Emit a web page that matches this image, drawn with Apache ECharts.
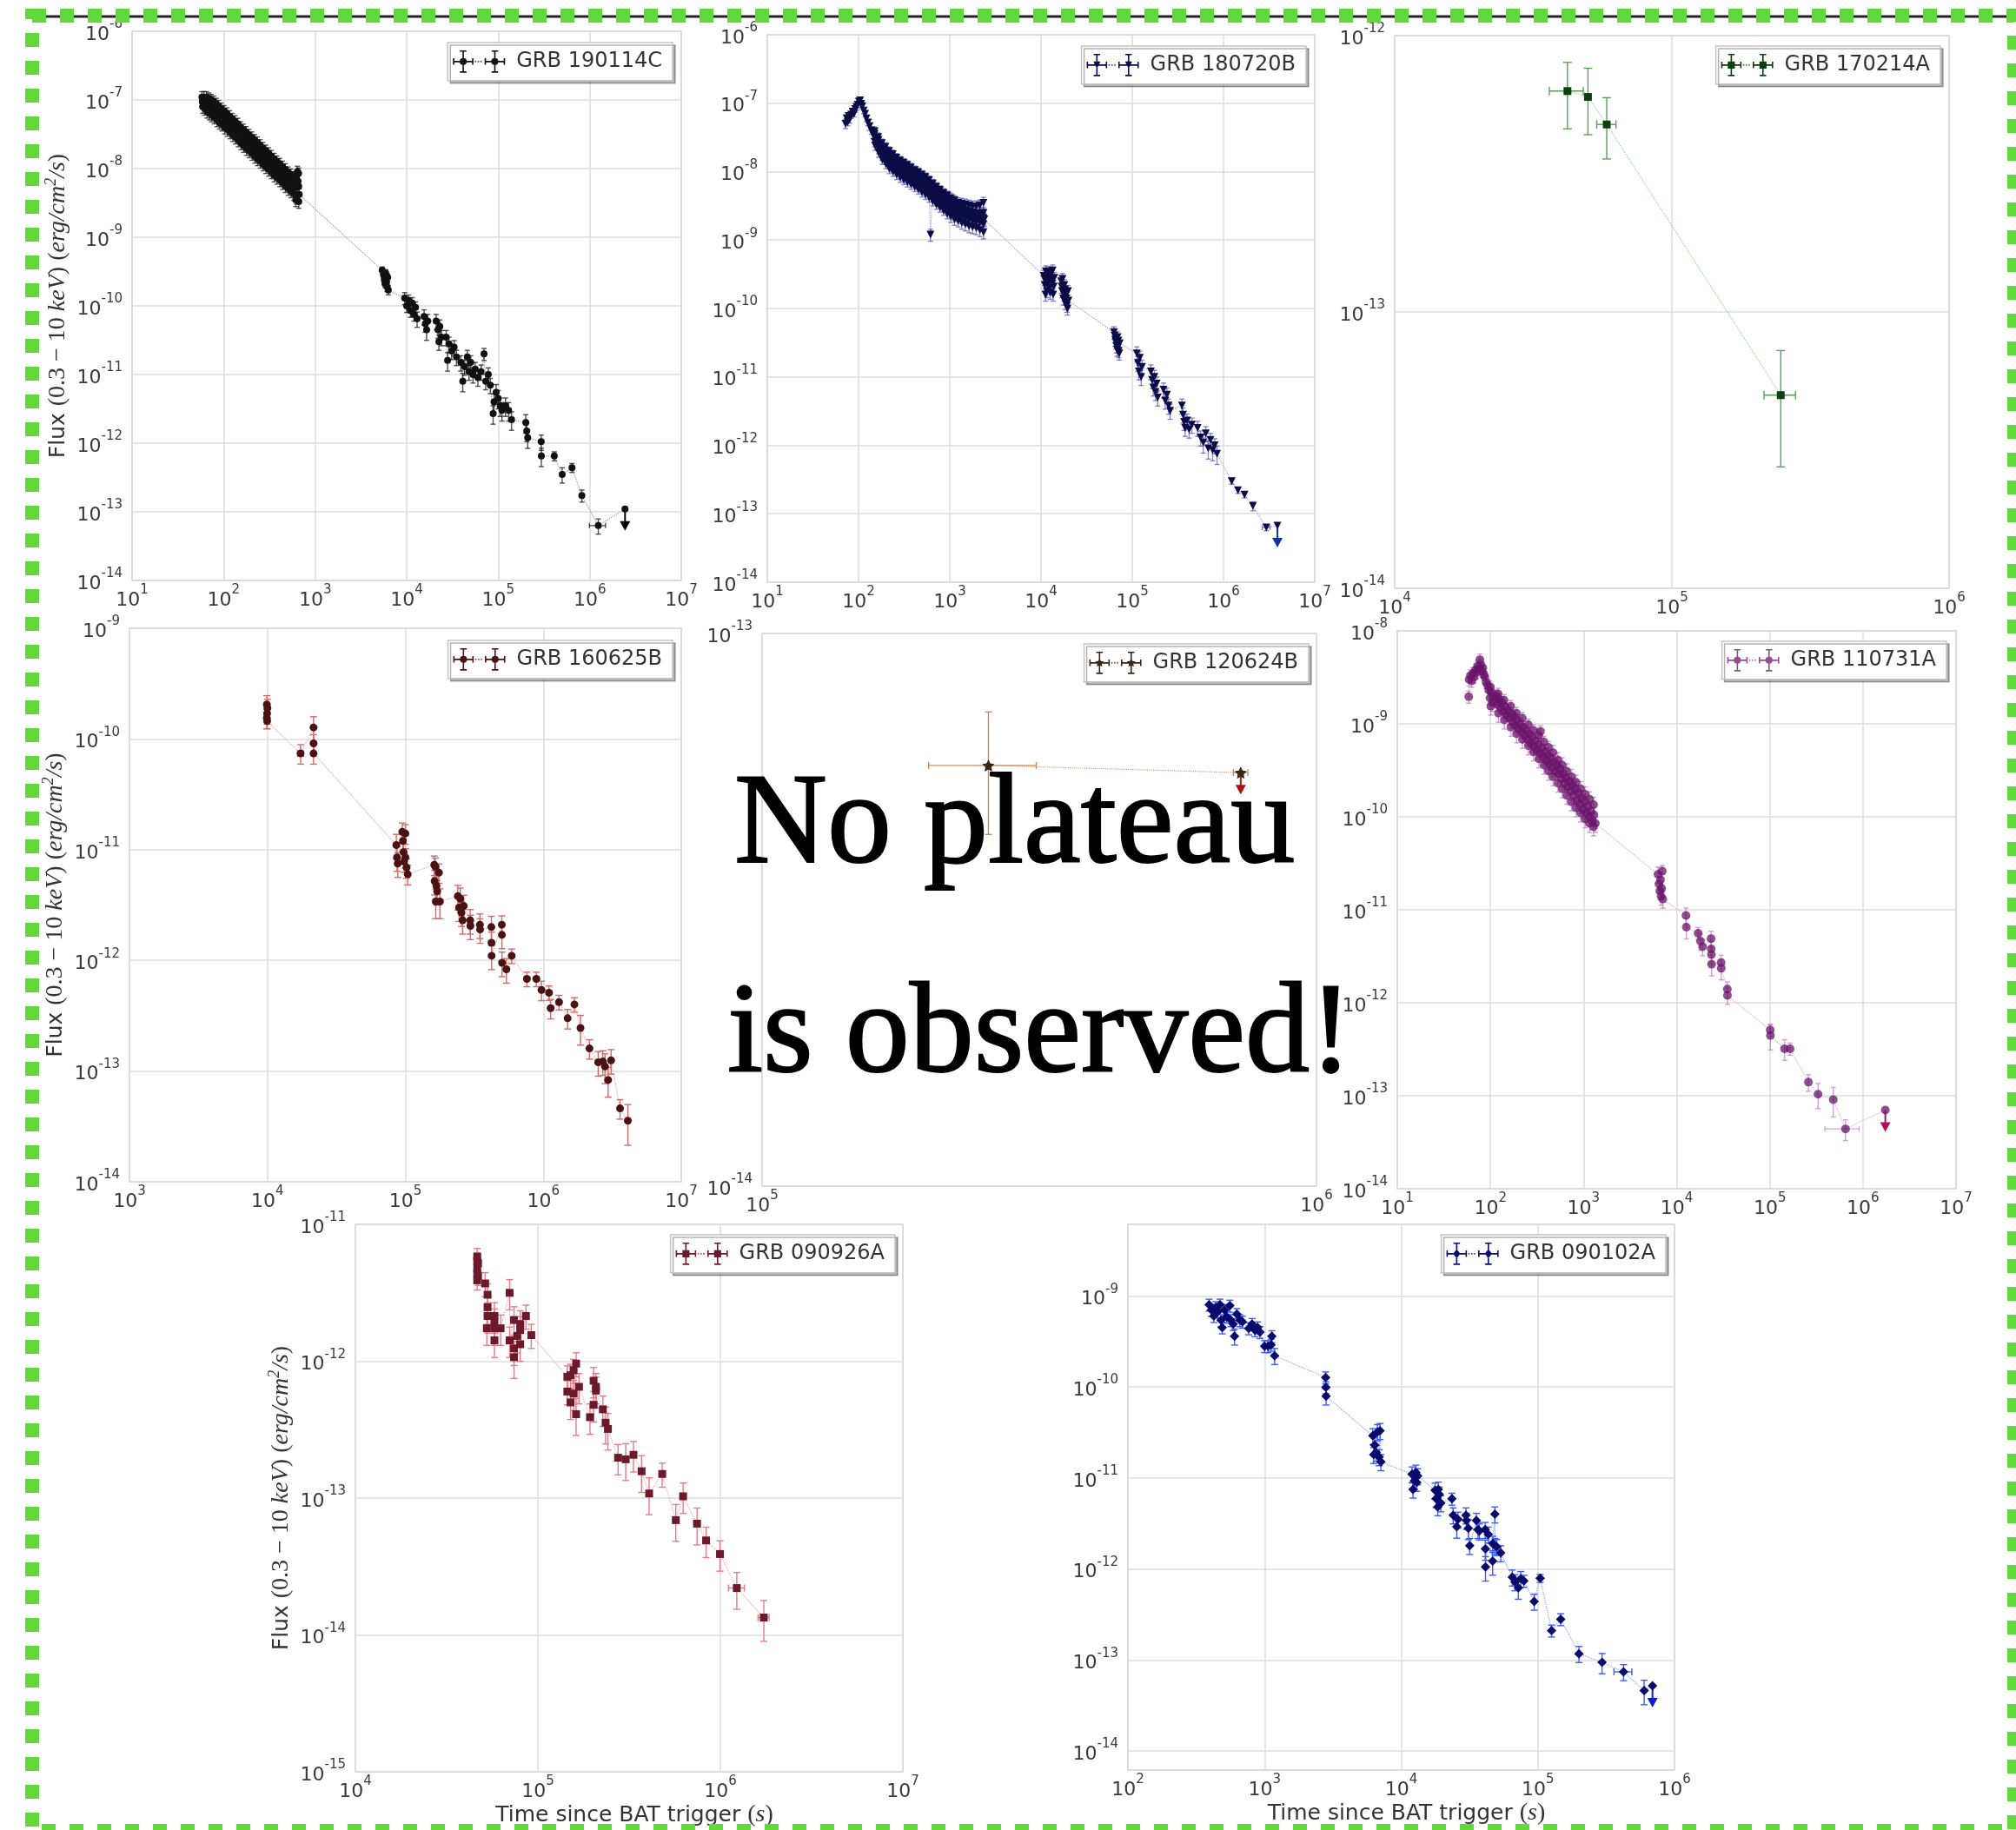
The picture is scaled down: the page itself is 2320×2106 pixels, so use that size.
<!DOCTYPE html>
<html><head><meta charset="utf-8">
<script src="https://cdn.jsdelivr.net/npm/echarts@6/dist/echarts.min.js"></script>
<style>html,body{margin:0;padding:0;background:#fff}#c{width:2320px;height:2106px}</style>
</head><body><div id="c"></div>
<script>
// ---- DATA: [time (s), flux, relative flux error, relative time error, upper-limit flag] ----
const grb190114C = [
[58,1.1e-7,.2],[58.5,9.5e-8,.2],[59,8.0e-8,.2],[61,1.1e-7,.2],[61.5,9.2e-8,.2],[62,7.5e-8,.2],[65,1.1e-7,.2],[65.5,8.8e-8,.2],[66,6.8e-8,.2],[69,1.05e-7,.2],[69.5,8.4e-8,.2],[70,6.4e-8,.2],[73,1.0e-7,.2],[73.5,7.8e-8,.2],[74,6.0e-8,.2],[78,9.5e-8,.2],[78.5,7.2e-8,.2],[79,5.6e-8,.2],[83,8.8e-8,.2],[84,6.8e-8,.2],[85,5.1e-8,.2],[88,8.2e-8,.2],[89,6.3e-8,.2],[90,4.7e-8,.2],[94,7.5e-8,.2],[95,5.8e-8,.2],[96,4.4e-8,.2],[101,6.9e-8,.2],[102,5.3e-8,.2],[103,4.0e-8,.2],[108,6.4e-8,.2],[109,4.9e-8,.2],[110,3.7e-8,.2],[116,5.8e-8,.2],[117,4.5e-8,.2],[118,3.4e-8,.2],[124,5.3e-8,.2],[125,4.1e-8,.2],[126,3.1e-8,.2],[133,4.9e-8,.2],[134,3.8e-8,.2],[135,2.85e-8,.2],[143,4.5e-8,.2],[144,3.5e-8,.2],[145,2.6e-8,.2],[153,4.0e-8,.2],[154,3.1e-8,.2],[155,2.35e-8,.2],[164,3.7e-8,.2],[165,2.85e-8,.2],[166,2.15e-8,.2],[176,3.4e-8,.2],[177,2.6e-8,.2],[178,1.95e-8,.2],[189,3.1e-8,.2],[190,2.4e-8,.2],[191,1.8e-8,.2],[203,2.85e-8,.2],[204,2.2e-8,.2],[205,1.65e-8,.2],[218,2.6e-8,.2],[219,2.0e-8,.2],[220,1.5e-8,.2],[233,2.4e-8,.2],[234,1.84e-8,.2],[235,1.38e-8,.2],[250,2.2e-8,.2],[251,1.69e-8,.2],[252,1.27e-8,.2],[268,2.0e-8,.2],[269,1.54e-8,.2],[270,1.16e-8,.2],[288,1.83e-8,.2],[289,1.41e-8,.2],[290,1.06e-8,.2],[309,1.68e-8,.2],[310,1.29e-8,.2],[311,9.7e-9,.2],[331,1.53e-8,.2],[332,1.18e-8,.2],[333,8.9e-9,.2],[356,1.39e-8,.2],[357,1.07e-8,.2],[358,8.0e-9,.2],[382,1.27e-8,.2],[383,9.8e-9,.2],[384,7.4e-9,.2],[410,1.17e-8,.2],[411,9.0e-9,.2],[412,6.8e-9,.2],[440,1.07e-8,.2],[441,8.2e-9,.2],[442,6.2e-9,.2],[472,9.8e-9,.2],[473,7.5e-9,.2],[474,5.6e-9,.2],[507,8.8e-9,.2],[508,6.8e-9,.2],[509,5.1e-9,.2],[543,8.2e-9,.2],[544,6.3e-9,.2],[545,4.7e-9,.2],[583,7.5e-9,.2],[584,5.8e-9,.2],[585,4.3e-9,.2],[615,3.5e-9,.2],[625,7.5e-9,.2],[626,5.3e-9,.2],[627,3.8e-9,.2],[640,9.0e-9,.2],[650,6.5e-9,.2],[660,8.5e-9,.2],[661,5.5e-9,.2],[662,3.3e-9,.2],[670,4.2e-9,.2],
[5400,3.3e-10,.12],[5600,2.8e-10,.12],[5700,2.4e-10,.12],[5800,2.1e-10,.12],[5900,3.0e-10,.12],[6000,2.2e-10,.12],[6100,1.9e-10,.15],[6200,2.6e-10,.12],[6300,1.7e-10,.15],
[9500,1.3e-10,.2],[10000,1.0e-10,.2],[10500,1.2e-10,.2],[11000,8.5e-11,.2],[11500,1.1e-10,.2],[12000,7.5e-11,.2],[12500,9.5e-11,.2],[13000,6.5e-11,.25],
[15500,7.0e-11,.25],[16000,5.5e-11,.25],[16500,4.5e-11,.3],[17000,6.0e-11,.25],
[21000,6.0e-11,.25],[22000,4.5e-11,.25],[22500,3.0e-11,.25],[23000,5.0e-11,.25],[24000,3.5e-11,.25],
[27000,3.5e-11,.25],[28000,1.6e-11,.3],[29000,2.8e-11,.25],[31000,2.2e-11,.25],[33000,2.5e-11,.25],[35000,1.8e-11,.25],
[39000,1.5e-11,.25],[41000,8.0e-12,.3],[43000,1.3e-11,.25],[46000,1.8e-11,.25],[48000,1.1e-11,.25],[50000,1.5e-11,.25],[53000,1.0e-11,.25],[56000,1.2e-11,.25],
[60000,9.0e-12,.25],[65000,1.1e-11,.25],[70000,2.0e-11,.2],[73000,8.0e-12,.25],[78000,1.0e-11,.25],[82000,7.0e-12,.25],
[88000,2.7e-12,.3],[90000,4.0e-12,.3],[95000,5.5e-12,.3],[100000,4.5e-12,.3],[105000,3.5e-12,.3],[110000,3.0e-12,.3],[120000,3.5e-12,.3],[130000,3.0e-12,.3],[140000,2.2e-12,.3],
[200000,2.0e-12,.3],[205000,1.5e-12,.3],[210000,1.2e-12,.3],
[295000,1.05e-12,.25],[296000,6.5e-13,.3],[410000,6.5e-13,.15],[500000,3.5e-13,.25],[640000,4.4e-13,.15],[820000,1.73e-13,.2],[1240000,6.3e-14,.25,.2],[2430000,1.1e-13,0,0,1]
];
const grb180720B = [
[72,5.0e-8,.15],[74,6.0e-8,.12],[76,5.3e-8,.12],[78,6.5e-8,.12],[80,5.8e-8,.12],[83,6.8e-8,.12],[86,7.5e-8,.1],[89,7.0e-8,.1],[92,8.2e-8,.1],[95,8.8e-8,.1],[98,9.5e-8,.1],[101,1.05e-7,.1],[104,1.1e-7,.1],[107,9.8e-8,.1],[110,9.0e-8,.1],[114,7.8e-8,.1],[118,7.0e-8,.1],[122,6.0e-8,.1],[127,5.2e-8,.1],[132,4.6e-8,.12],[138,4.0e-8,.12],[144,3.5e-8,.12],
[150,3.9e-8,.15],[151,3.1e-8,.15],[152,2.4e-8,.15],[164,3.2e-8,.15],[165,2.5e-8,.15],[166,1.9e-8,.15],[180,2.6e-8,.15],[181,2.0e-8,.15],[182,1.5e-8,.15],[197,2.3e-8,.15],[198,1.75e-8,.15],[199,1.3e-8,.15],[216,2.0e-8,.15],[217,1.5e-8,.15],[218,1.1e-8,.15],[237,1.8e-8,.15],[238,1.35e-8,.15],[239,1.0e-8,.15],[260,1.6e-8,.15],[261,1.2e-8,.15],[262,9.0e-9,.15],[285,1.45e-8,.15],[286,1.08e-8,.15],[287,8.2e-9,.15],[312,1.35e-8,.15],[313,1.0e-8,.15],[314,7.6e-9,.15],[342,1.25e-8,.15],[343,9.3e-9,.15],[344,7.0e-9,.15],[375,1.15e-8,.15],[376,8.7e-9,.15],[377,6.5e-9,.15],[412,1.05e-8,.15],[413,8.0e-9,.15],[414,6.0e-9,.15],[451,9.8e-9,.15],[452,7.4e-9,.15],[453,5.5e-9,.15],[494,9.0e-9,.15],[495,6.8e-9,.15],[496,5.0e-9,.15],[541,8.3e-9,.15],[542,6.2e-9,.15],[543,4.6e-9,.15],[593,7.5e-9,.15],[594,5.6e-9,.15],[595,4.2e-9,.15],[615,1.2e-9,.2],[650,6.7e-9,.15],[651,5.0e-9,.15],[652,3.7e-9,.15],[712,6.0e-9,.15],[713,4.5e-9,.15],[714,3.3e-9,.15],[780,5.4e-9,.15],[781,4.0e-9,.15],[782,3.0e-9,.15],[855,4.9e-9,.15],[856,3.6e-9,.15],[857,2.7e-9,.15],[937,4.5e-9,.15],[938,3.3e-9,.15],[939,2.4e-9,.15],[1027,4.1e-9,.18],[1028,3.0e-9,.18],[1029,2.2e-9,.18],[1125,3.8e-9,.18],[1126,2.8e-9,.18],[1127,2.0e-9,.18],[1233,3.5e-9,.18],[1234,2.6e-9,.18],[1235,1.9e-9,.18],[1351,3.4e-9,.2],[1352,2.5e-9,.2],[1353,1.8e-9,.2],[1480,3.3e-9,.2],[1481,2.4e-9,.2],[1482,1.7e-9,.2],[1622,3.2e-9,.2],[1623,2.3e-9,.2],[1624,1.6e-9,.2],[1778,3.1e-9,.2],[1779,2.2e-9,.2],[1780,1.55e-9,.2],[1948,3.1e-9,.2],[1949,2.15e-9,.2],[1950,1.5e-9,.2],[2135,3.2e-9,.2],[2136,2.1e-9,.2],[2137,1.4e-9,.2],[2340,3.5e-9,.2],[2341,2.1e-9,.2],[2342,1.3e-9,.2],
[2341.5,1.7e-9,.2],[2341.5,2.5e-9,.2],[2136.5,1.8e-9,.2],[2136.5,2.45e-9,.2],[1949.5,1.85e-9,.2],[1949.5,2.5e-9,.2],[1779.5,1.9e-9,.2],[1779.5,2.55e-9,.2],[1623.5,1.98e-9,.2],[1623.5,2.65e-9,.2],[1481.5,2.05e-9,.2],[1481.5,2.75e-9,.2],[1352.5,2.15e-9,.2],[1352.5,2.9e-9,.2],[1234.5,2.25e-9,.18],[1234.5,3.0e-9,.18],[1126.5,2.4e-9,.18],[1126.5,3.2e-9,.18],[1027.5,2.6e-9,.18],[1027.5,3.45e-9,.18],[937.5,2.85e-9,.15],[937.5,3.8e-9,.15],[855.5,3.1e-9,.15],[855.5,4.15e-9,.15],[780.5,3.45e-9,.15],[780.5,4.6e-9,.15],[712.5,3.9e-9,.15],[712.5,5.2e-9,.15],[650.5,4.3e-9,.15],[650.5,5.75e-9,.15],[593.5,4.8e-9,.15],[593.5,6.4e-9,.15],[541.5,5.3e-9,.15],[541.5,7.1e-9,.15],[494.5,5.8e-9,.15],[494.5,7.8e-9,.15],[451.5,6.4e-9,.15],[451.5,8.5e-9,.15],[412.5,6.9e-9,.15],[412.5,9.2e-9,.15],[375.5,7.5e-9,.15],[375.5,1.0e-8,.15],[342.5,8.0e-9,.15],[342.5,1.07e-8,.15],[312.5,8.6e-9,.15],[312.5,1.15e-8,.15],[285.5,9.3e-9,.15],[285.5,1.24e-8,.15],[260.5,1.03e-8,.15],[260.5,1.38e-8,.15],[237.5,1.16e-8,.15],[237.5,1.55e-8,.15],[216.5,1.29e-8,.15],[216.5,1.73e-8,.15],[197.5,1.5e-8,.15],[197.5,2.0e-8,.15],[180.5,1.72e-8,.15],[180.5,2.3e-8,.15],[165.5,2.15e-8,.15],[165.5,2.9e-8,.15],[150.5,2.7e-8,.15],[150.5,3.55e-8,.15],[1200,2.7e-9,.18],[1500,2.3e-9,.2],[1900,2.0e-9,.2],[2250,2.2e-9,.2],[2390,2.0e-9,.2],
[10700,3.0e-10,.2],[10900,2.7e-10,.2],[11000,2.2e-10,.2],[11200,1.6e-10,.2],[11300,3.5e-10,.2],[11500,3.0e-10,.2],[11600,1.8e-10,.2],[11800,2.3e-10,.2],[12000,2.6e-10,.2],[12200,3.4e-10,.2],[12400,2.0e-10,.2],[12600,1.7e-10,.2],[12800,3.2e-10,.2],[13000,2.7e-10,.2],[13200,2.3e-10,.2],[13400,3.6e-10,.2],[13600,1.6e-10,.2],[13800,2.1e-10,.2],[14000,2.8e-10,.2],
[16600,2.5e-10,.2],[16800,2.1e-10,.2],[17000,1.8e-10,.2],[17200,2.7e-10,.2],[17500,1.4e-10,.2],[17800,1.6e-10,.2],[18000,2.2e-10,.2],[18200,1.9e-10,.2],[18500,1.2e-10,.2],[18800,1.4e-10,.2],[19000,1.6e-10,.2],[19200,1.1e-10,.2],[19500,1.0e-10,.2],[19800,1.8e-10,.2],[20000,1.3e-10,.2],
[63000,4.5e-11,.2],[64000,4.0e-11,.2],[65000,3.5e-11,.2],[66000,3.2e-11,.2],[67000,2.8e-11,.2],[68000,2.5e-11,.2],[69000,3.8e-11,.2],[70000,3.4e-11,.2],[71000,2.4e-11,.2],[72000,2.2e-11,.2],[73000,3.1e-11,.2],
[112000,2.2e-11,.25],[115000,1.6e-11,.25],[118000,1.2e-11,.25],[121000,1.9e-11,.25],[125000,1.0e-11,.25],[128000,1.4e-11,.25],
[160000,1.2e-11,.25],[165000,9.0e-12,.25],[170000,7.0e-12,.25],[175000,1.0e-11,.25],[180000,6.0e-12,.25],[185000,8.0e-12,.25],[190000,5.0e-12,.25],
[220000,6.5e-12,.25],[230000,4.5e-12,.25],[240000,5.5e-12,.25],[250000,3.8e-12,.25],[260000,3.2e-12,.25],
[350000,3.8e-12,.25],[360000,2.8e-12,.25],[370000,2.2e-12,.25],[380000,1.8e-12,.25],
[400000,2.3e-12,.25],[420000,1.7e-12,.25],[450000,2.0e-12,.25],
[520000,1.8e-12,.25],[560000,1.3e-12,.25],[600000,1.1e-12,.3],[640000,1.5e-12,.25],[680000,9.0e-13,.3],[720000,1.2e-12,.25],[760000,8.5e-13,.3],[800000,1.0e-12,.25],[850000,7.5e-13,.3],
[1230000,3.0e-13,.1],[1440000,2.2e-13,.1],[1700000,1.9e-13,.1],[2100000,1.3e-13,.15],[2950000,6.3e-14,.1,.1],[3900000,6.7e-14,0,0,1]
];
const grb170214A = [
[42000,6.3e-13,.27,.14],[49800,6.0e-13,.27,0],[58200,4.77e-13,.25,.08],[247000,5.0e-14,.45,.13]
];
const grb160625B = [
[9900,2.05e-10,.2],[9950,1.7e-10,.2],[9900,1.55e-10,.2],[10000,1.9e-10,.2],[9950,1.45e-10,.15],
[17400,7.4e-11,.2,.05],[21600,1.27e-10,.25],[21600,9.1e-11,.2],[21600,7.4e-11,.2],
[86000,1.1e-11,.25],[87000,8.5e-12,.25],[88000,7.5e-12,.25],[95000,1.45e-11,.2],[96000,1.2e-11,.2],[97000,9.5e-12,.2],[98000,7.8e-12,.2],[100000,1.4e-11,.2],[100000,8.5e-12,.2],[102000,6.9e-12,.2],[104000,6.0e-12,.2],
[162000,7.3e-12,.2],[165000,7.0e-12,.2],[163000,5.2e-12,.25],[168000,4.7e-12,.25],[170000,4.2e-12,.25],[166000,3.4e-12,.3],[175000,6.2e-12,.2],[178000,3.4e-12,.3],
[240000,3.8e-12,.25],[245000,3.0e-12,.25],[250000,3.6e-12,.25],[255000,2.7e-12,.25],[260000,2.3e-12,.25],[265000,3.1e-12,.25],
[295000,2.3e-12,.25],[296000,2.05e-12,.25],[347000,2.1e-12,.25],[348000,1.9e-12,.25],
[420000,2.0e-12,.25],[421000,1.44e-12,.25],[422000,1.1e-12,.25],[500000,2.1e-12,.2],[501000,1.7e-12,.25],[502000,9.5e-13,.25],[540000,8.3e-13,.25],[590000,1.1e-12,.15],
[760000,6.8e-13,.15],[890000,6.8e-13,.15],[970000,5.4e-13,.2],[1100000,5.1e-13,.15],[1130000,3.7e-13,.2],[1300000,4.2e-13,.15],[1500000,3.0e-13,.2],[1680000,4.0e-13,.15],[1860000,2.45e-13,.3],[2160000,1.6e-13,.2],[2500000,1.2e-13,.25],[2700000,1.22e-13,.25],[2800000,1.1e-13,.3],[2950000,8.3e-14,.3],[3100000,1.25e-13,.25],[3600000,4.6e-14,.2],[4100000,3.56e-14,.4]
];
const grb120624B = [
[256000,5.77e-14,.25,.22],[730000,5.6e-14,0,.03,1]
];
const grb110731A = [
[58.5,1.96e-9,.15],[59,3.0e-9,.15],[61,3.3e-9,.15],[63,2.9e-9,.15],[65,3.5e-9,.15],[67,3.2e-9,.15],[69,3.8e-9,.15],[71,3.6e-9,.15],[73,4.2e-9,.15],[75,3.9e-9,.15],[77,4.9e-9,.15],[79,4.3e-9,.15],[81,3.7e-9,.15],[83,4.0e-9,.15],[85,3.4e-9,.15],[87,3.2e-9,.15],[90,2.8e-9,.15],[93,2.6e-9,.15],[96,2.3e-9,.15],[99,1.9e-9,.15],[100,2.5e-9,.15],[101,1.55e-9,.2],[102,2.2e-9,.15],[105,1.7e-9,.2],[108,2.0e-9,.15],[112,1.75e-9,.15],[116,2.0e-9,.15],[120,1.6e-9,.15],[121,2.1e-9,.15],[122,1.3e-9,.2],[124,1.85e-9,.15],[128,1.5e-9,.15],[133,1.7e-9,.15],[138,1.35e-9,.15],[140,1.8e-9,.15],[141,1.1e-9,.2],[143,1.55e-9,.15],[148,1.25e-9,.15],[154,1.4e-9,.15],[160,1.15e-9,.15],[165,1.55e-9,.15],[166,9.2e-10,.2],[167,1.3e-9,.15],[172,1.05e-9,.15],[179,1.2e-9,.15],[186,9.6e-10,.15],[190,1.3e-9,.15],[191,7.8e-10,.2],[193,1.1e-9,.15],[200,8.8e-10,.15],[208,1.0e-9,.15],[216,8.2e-10,.15],[220,1.15e-9,.15],[221,6.8e-10,.2],[224,9.2e-10,.15],[233,7.5e-10,.15],[242,8.5e-10,.15],[251,6.8e-10,.15],[255,9.8e-10,.15],[256,5.8e-10,.2],[261,7.8e-10,.15],[271,6.2e-10,.2],[282,7.2e-10,.15],[290,8.5e-10,.15],[291,5.0e-10,.2],[293,5.7e-10,.2],[304,6.6e-10,.15],[316,5.2e-10,.2],[328,6.0e-10,.15],[330,7.5e-10,.15],[331,4.2e-10,.2],[341,4.8e-10,.2],[345,8.3e-10,.15],[354,5.5e-10,.2],[368,4.4e-10,.2],[375,6.4e-10,.15],[376,3.6e-10,.2],[382,5.0e-10,.2],[397,4.0e-10,.2],[412,4.6e-10,.2],[420,5.6e-10,.15],[421,3.1e-10,.2],[428,3.7e-10,.2],[445,4.3e-10,.2],[462,3.4e-10,.2],[470,4.9e-10,.2],[471,2.7e-10,.2],[480,3.9e-10,.2],[499,3.1e-10,.2],[518,3.6e-10,.2],[530,4.1e-10,.2],[531,2.3e-10,.2],[538,2.9e-10,.2],[559,3.3e-10,.2],[581,2.6e-10,.2],[590,3.6e-10,.2],[591,2.0e-10,.2],[603,2.9e-10,.2],[627,2.3e-10,.2],[651,2.6e-10,.2],[660,3.1e-10,.2],[661,1.7e-10,.2],[676,2.1e-10,.2],[702,2.4e-10,.2],[730,1.9e-10,.2],[740,2.7e-10,.2],[741,1.45e-10,.2],[758,2.2e-10,.2],[787,1.7e-10,.2],[818,2.0e-10,.2],[830,2.35e-10,.2],[831,1.25e-10,.2],[850,1.5e-10,.2],[883,1.8e-10,.2],[917,1.35e-10,.2],[930,2.0e-10,.2],[931,1.1e-10,.2],[953,1.6e-10,.2],[990,1.2e-10,.2],[1028,1.45e-10,.2],[1040,1.75e-10,.2],[1041,9.5e-11,.2],[1068,1.1e-10,.2],[1110,1.3e-10,.2],[1153,1.0e-10,.2],[1160,1.55e-10,.2],[1161,8.5e-11,.2],[1198,1.15e-10,.2],[1245,9.0e-11,.2],[1280,1.35e-10,.2],[1281,7.8e-11,.2],[1293,1.05e-10,.2],[1340,8.5e-11,.2],
[6300,2.4e-11,.2],[6450,1.9e-11,.2],[6600,1.6e-11,.2],[6700,2.1e-11,.2],[6800,1.4e-11,.2],[6900,1.7e-11,.2],[7000,2.6e-11,.15],[7100,1.3e-11,.2],
[12600,8.7e-12,.2],[12700,6.5e-12,.25],
[17000,5.6e-12,.15],[18000,4.6e-12,.2],[19000,4.0e-12,.2],
[23400,4.9e-12,.2],[23500,3.8e-12,.2],[23600,3.3e-12,.2],[23700,2.6e-12,.25],
[30000,2.7e-12,.2],[30100,2.35e-12,.25],
[35000,1.4e-12,.2],[35100,1.2e-12,.2],
[101000,5.1e-13,.15],[101500,4.45e-13,.3],[144000,3.2e-13,.25],[165000,3.2e-13,.15],
[260000,1.4e-13,.2],[330000,1.04e-13,.3],[480000,9.1e-14,.35],[650000,4.4e-14,.25,.4],[1740000,7.0e-14,0,0,1]
];
const grb090926A = [
[46500,5.8e-12,.15],[46500,5.4e-12,.15],[46500,4.8e-12,.15],[46500,4.35e-12,.15],[46500,3.9e-12,.15],[47000,5.2e-12,.15],[47000,4.2e-12,.15],
[51400,3.7e-12,.2],[53000,3.06e-12,.2],[53000,2.48e-12,.25],[53000,2.14e-12,.25],[52500,1.74e-12,.25],
[57800,2.14e-12,.25],[57800,1.93e-12,.25],[57800,1.74e-12,.25],[57800,1.42e-12,.25],[62500,1.74e-12,.25],
[70000,3.16e-12,.25],[70000,1.42e-12,.25],[74000,2.0e-12,.25],[74000,1.24e-12,.25],[74000,1.07e-12,.3],[77000,1.53e-12,.25],[80000,1.87e-12,.25],[80000,1.69e-12,.25],[80000,1.33e-12,.25],[86000,2.14e-12,.2],[92000,1.55e-12,.2],
[145000,7.7e-13,.2],[145000,6.0e-13,.2],[151000,7.9e-13,.2],[151000,5.0e-13,.25],[157000,8.6e-13,.2],[157000,5.8e-13,.25],[162000,9.6e-13,.2],[162000,4.1e-13,.3],[168000,6.5e-13,.25],
[193000,3.9e-13,.25],[202000,4.8e-13,.25],[202000,7.2e-13,.25],[208000,6.5e-13,.25],[208000,6.1e-13,.25],[227000,4.45e-13,.25],[235000,3.55e-13,.3],[242000,3.2e-13,.3],
[275000,1.97e-13,.25],[303000,1.92e-13,.3],[334000,2.07e-13,.25],[370000,1.57e-13,.3],[407000,1.08e-13,.3],[480000,1.5e-13,.2],[570000,6.9e-14,.3],[625000,1.03e-13,.25],[745000,6.5e-14,.3],[835000,4.9e-14,.25],[995000,3.9e-14,.25],[1230000,2.2e-14,.3,.1],[1730000,1.34e-14,.33,.07]
];
const grb090102A = [
[393,8.0e-10,.15],[408,7.0e-10,.15],[425,6.0e-10,.15],[440,7.5e-10,.15],[455,6.7e-10,.15],[472,8.0e-10,.15],[480,5.4e-10,.15],[490,4.5e-10,.15],[510,7.0e-10,.15],[528,5.9e-10,.15],[557,7.8e-10,.15],[567,5.4e-10,.15],[590,4.9e-10,.15],[603,3.6e-10,.2],[627,6.3e-10,.15],[660,5.4e-10,.15],[688,5.2e-10,.15],
[766,4.4e-10,.15],[810,4.9e-10,.15],[850,4.2e-10,.15],[890,4.5e-10,.15],[925,4.0e-10,.15],
[1000,2.8e-10,.15],[1060,2.8e-10,.15],[1115,2.9e-10,.15],[1130,3.6e-10,.15],[1185,2.2e-10,.2],
[2800,1.27e-10,.15],[2810,9.9e-11,.15],[2820,7.9e-11,.2],
[6200,2.9e-11,.2],[6300,1.8e-11,.2],[6400,2.3e-11,.2],[6550,1.9e-11,.2],[6700,3.2e-11,.2],[6900,1.7e-11,.2],[7000,3.3e-11,.2],[7100,1.5e-11,.2],
[12000,1.1e-11,.2],[12200,7.5e-12,.2],[12500,9.3e-12,.2],[12800,1.15e-11,.2],[13000,8.9e-12,.2],[13200,1.05e-11,.2],
[17700,7.3e-12,.2],[18000,5.9e-12,.2],[18500,4.8e-12,.2],[18700,7.5e-12,.2],[19000,6.6e-12,.2],[19500,5.3e-12,.2],
[23500,5.9e-12,.15],[24000,3.9e-12,.2],[25500,2.9e-12,.25],[26000,3.5e-12,.2],
[29800,3.9e-12,.2],[30000,3.4e-12,.2],[31000,2.8e-12,.25],[31700,1.8e-12,.2],
[35500,3.4e-12,.2],[36500,2.7e-12,.2],[37300,2.6e-12,.2],
[41200,2.7e-12,.2],[41300,1.66e-12,.25],[41400,1.05e-12,.3],[43400,2.4e-12,.2],[46700,1.22e-12,.3],[46800,1.9e-12,.2],[48500,4.0e-12,.2],[48600,1.8e-12,.2],[50000,1.75e-12,.2],[53500,1.5e-12,.2],
[65000,8.1e-13,.2],[68000,7.2e-13,.2],[72000,6.2e-13,.25],[75000,7.8e-13,.2],[79000,7.4e-13,.15],
[94000,4.4e-13,.2],[104000,7.9e-13,.1],[126000,2.1e-13,.15],[147000,2.8e-13,.15],[200000,1.17e-13,.2],[295000,9.4e-14,.25],[424000,7.4e-14,.2,.15],[600000,4.6e-14,.3],[690000,5.2e-14,0,0,1]
];

// axis ranges (log10 exponents)
const xRanges = [[1,7],[1,7],[4,6],[3,7],[5,6],[1,7],[4,7],[2,6]];
const yRanges = [[-14,-6],[-14,-6],[-14,-12],[-14,-9],[-14,-13],[-14,-8],[-15,-11],[-14.21,-8.214]];
const grbNames = ['GRB 190114C','GRB 180720B','GRB 170214A','GRB 160625B','GRB 120624B','GRB 110731A','GRB 090926A','GRB 090102A'];
const grbData = [grb190114C, grb180720B, grb170214A, grb160625B, grb120624B, grb110731A, grb090926A, grb090102A];

// ---- LAYOUT / STYLE ----
const layout = [
  {grid:[152,36,632,632],  legend:[1546,49],  yName:true,  xName:false},
  {grid:[883,40,630,630],  legend:[817,53],   yName:false, xName:false},
  {grid:[1605,41,638,636], legend:[87,53],    yName:false, xName:false},
  {grid:[149,723,635,637], legend:[1546,737], yName:true,  xName:false},
  {grid:[877,729,638,636], legend:[814,741],  yName:false, xName:false},
  {grid:[1608,726,643,642],legend:[80,738],   yName:false, xName:false},
  {grid:[409,1409,630,630],legend:[1290,1421],yName:true,  xName:true},
  {grid:[1298,1409,629,628],legend:[403,1421],yName:false, xName:true}
];
const styles = [
  {shape:'circle',  size:8,  marker:'#111111', err:'rgba(25,25,25,0.75)',  line:'#9a9a9a', ul:'#000000', cap:3},
  {shape:'tridown', size:9,  marker:'#0b0b45', err:'rgba(60,60,170,0.6)',  line:'#9fa3d8', ul:'#1030b0', cap:3},
  {shape:'square',  size:9,  marker:'#0d3f0d', err:'#5aa05a',              line:'#9fd49f', ul:'#0d3f0d', cap:5},
  {shape:'circle',  size:9,  marker:'#4a1212', err:'#d46a6a',              line:'#e8a8a8', ul:'#4a1212', cap:4},
  {shape:'star',    size:14, marker:'#3a2414', err:'#c68c68',              line:'#cf9a78', ul:'#b01010', cap:4},
  {shape:'circle',  size:10, marker:'rgba(105,20,105,0.75)', err:'rgba(195,120,195,0.7)', line:'#dcb0dc', ul:'#b0105a', cap:3},
  {shape:'square',  size:9,  marker:'#6a1a2a', err:'#e77a8a',              line:'#eeaab4', ul:'#6a1a2a', cap:4},
  {shape:'diamond', size:11, marker:'#0a0a6a', err:'#3a5cff',              line:'#8fa0ff', ul:'#1020c8', cap:4}
];

const STAR = 'path://M0,-10L2.94,-4.05L9.51,-3.09L4.76,1.55L5.88,8.09L0,5L-5.88,8.09L-4.76,1.55L-9.51,-3.09L-2.94,-4.05Z';
function scatterSymbol(shape){
  return {circle:'circle', square:'rect', tridown:'triangle', diamond:'diamond', star:STAR}[shape];
}
function rectP(x,y,w,h){return `M${x} ${y}L${x+w} ${y}L${x+w} ${y+h}L${x} ${y+h}Z`;}
function markerP(shape,cx,cy,r){
  if(shape==='circle') return `M${cx-r} ${cy}A${r} ${r} 0 1 1 ${cx+r} ${cy}A${r} ${r} 0 1 1 ${cx-r} ${cy}Z`;
  if(shape==='square') return rectP(cx-r,cy-r,2*r,2*r);
  if(shape==='tridown') return `M${cx-r} ${cy-r}L${cx+r} ${cy-r}L${cx} ${cy+r}Z`;
  if(shape==='diamond') return `M${cx} ${cy-r*1.3}L${cx+r} ${cy}L${cx} ${cy+r*1.3}L${cx-r} ${cy}Z`;
  let d='';
  for(let k=0;k<10;k++){
    const a=-Math.PI/2+k*Math.PI/5, rr=(k%2?0.5:1)*r*1.3;
    d+=(k?'L':'M')+(cx+rr*Math.cos(a)).toFixed(2)+' '+(cy+rr*Math.sin(a)).toFixed(2);
  }
  return d+'Z';
}
function legendIcon(shape){
  let d='';
  [13,47].forEach(cx=>{
    d+=rectP(cx-0.75,1,1.5,24)+rectP(cx-3.5,1,7,1.5)+rectP(cx-3.5,23.5,7,1.5)
      +rectP(cx-11,12.25,22,1.5)+rectP(cx-11,9.5,1.5,7)+rectP(cx+9.5,9.5,1.5,7)
      +markerP(shape,cx,13,3.8);
  });
  for(let x=25.5;x<34;x+=3) d+=rectP(x,12.4,1.5,1.2);
  return 'path://'+d;
}

function expLabel(v){
  const e=Math.log10(v), r=Math.round(e);
  if(Math.abs(e-r)>1e-6) return '';
  return '{a|10}{b|'+r+'}';
}
const labelRich = {
  a:{fontFamily:'DejaVu Sans',fontSize:22,color:'#3a3a3a',lineHeight:30,verticalAlign:'bottom'},
  b:{fontFamily:'DejaVu Sans',fontSize:15,color:'#3a3a3a',lineHeight:30,verticalAlign:'top'}
};
const nameRich = {
  f:{fontFamily:'DejaVu Sans',fontSize:25,color:'#333',lineHeight:34,verticalAlign:'middle'},
  m:{fontFamily:'Liberation Serif',fontSize:28,color:'#333',lineHeight:34,verticalAlign:'middle'},
  i:{fontFamily:'Liberation Serif',fontSize:28,fontStyle:'italic',color:'#333',lineHeight:34,verticalAlign:'middle'},
  s:{fontFamily:'Liberation Serif',fontSize:18,fontStyle:'italic',color:'#333',lineHeight:34,verticalAlign:'top'}
};
const xNameRich = {
  f:{fontFamily:'DejaVu Sans',fontSize:25,color:'#333',lineHeight:32,verticalAlign:'middle'},
  m:{fontFamily:'Liberation Serif',fontSize:28,color:'#333',lineHeight:32,verticalAlign:'middle'},
  i:{fontFamily:'Liberation Serif',fontSize:28,fontStyle:'italic',color:'#333',lineHeight:32,verticalAlign:'middle'}
};
const Y_NAME = '{f|Flux }{m|(0.3 − 10 }{i|keV}{m|) (}{i|erg/cm}{s|2}{i|/s}{m|)}';
const X_NAME = '{f|Time since BAT trigger }{m|(}{i|s}{m|)}';

function errRender(st){
  return function(params, api){
    const t=api.value(0), f=api.value(1), ey=api.value(2)||0, ex=api.value(3)||0, ul=api.value(4)||0;
    const c=api.coord([t,f]);
    const ls={stroke:st.err,lineWidth:1.4};
    const ch=[];
    if(ey>0){
      const a=api.coord([t,f*(1+ey)]), b=api.coord([t,f*(1-ey)]);
      ch.push({type:'line',shape:{x1:c[0],y1:a[1],x2:c[0],y2:b[1]},style:ls});
      ch.push({type:'line',shape:{x1:c[0]-st.cap,y1:a[1],x2:c[0]+st.cap,y2:a[1]},style:ls});
      ch.push({type:'line',shape:{x1:c[0]-st.cap,y1:b[1],x2:c[0]+st.cap,y2:b[1]},style:ls});
    }
    if(ex>0){
      const l=api.coord([t*(1-ex),f]), r=api.coord([t*(1+ex),f]);
      ch.push({type:'line',shape:{x1:l[0],y1:c[1],x2:r[0],y2:c[1]},style:ls});
      ch.push({type:'line',shape:{x1:l[0],y1:c[1]-st.cap,x2:l[0],y2:c[1]+st.cap},style:ls});
      ch.push({type:'line',shape:{x1:r[0],y1:c[1]-st.cap,x2:r[0],y2:c[1]+st.cap},style:ls});
    }
    if(ul){
      ch.push({type:'line',shape:{x1:c[0],y1:c[1],x2:c[0],y2:c[1]+16},style:{stroke:st.ul,lineWidth:2}});
      ch.push({type:'polygon',shape:{points:[[c[0]-6,c[1]+14],[c[0]+6,c[1]+14],[c[0],c[1]+25]]},style:{fill:st.ul}});
    }
    return {type:'group',children:ch};
  };
}

const grids=[], xAxes=[], yAxes=[], series=[], legends=[];
grbData.forEach((pts,i)=>{
  const L=layout[i], st=styles[i], name=grbNames[i];
  grids.push({left:L.grid[0],top:L.grid[1],width:L.grid[2],height:L.grid[3],show:true,
    borderColor:'#cccccc',borderWidth:1.5,backgroundColor:'transparent',containLabel:false,outerBoundsMode:'none'});
  const x={type:'log',logBase:10,gridIndex:i,min:Math.pow(10,xRanges[i][0]),max:Math.pow(10,xRanges[i][1]),
    axisLine:{show:false},axisTick:{show:false},minorTick:{show:false},
    splitLine:{show:true,lineStyle:{color:'#dddddd',width:1.5}},
    axisLabel:{formatter:expLabel,rich:labelRich,margin:4,showMinLabel:true,showMaxLabel:true,hideOverlap:false}};
  if(L.xName){Object.assign(x,{name:X_NAME,nameLocation:'middle',nameGap:34,nameTextStyle:{rich:xNameRich,padding:[0,0,0,12]}});}
  xAxes.push(x);
  const y={type:'log',logBase:10,gridIndex:i,min:Math.pow(10,yRanges[i][0]),max:Math.pow(10,yRanges[i][1]),
    axisLine:{show:false},axisTick:{show:false},minorTick:{show:false},
    splitLine:{show:true,lineStyle:{color:'#dddddd',width:1.5}},
    axisLabel:{formatter:expLabel,rich:labelRich,margin:11,showMinLabel:true,showMaxLabel:true,hideOverlap:false}};
  if(L.yName){Object.assign(y,{name:Y_NAME,nameLocation:'middle',nameGap:68,nameRotate:90,nameTextStyle:{rich:nameRich}});}
  yAxes.push(y);
  const full=pts.map(p=>[p[0],p[1],p[2]||0,p[3]||0,p[4]||0]);
  series.push({name,type:'scatter',xAxisIndex:i,yAxisIndex:i,z:4,
    symbol:scatterSymbol(st.shape),symbolRotate:st.shape==='tridown'?180:0,symbolSize:st.size,
    itemStyle:{color:st.marker,opacity:1},data:pts.map(p=>[p[0],p[1]])});
  series.push({name,type:'custom',xAxisIndex:i,yAxisIndex:i,z:3,clip:true,
    dimensions:['t','f','ey','ex','ul'],encode:{x:0,y:1},renderItem:errRender(st),data:full});
  series.push({name,type:'line',xAxisIndex:i,yAxisIndex:i,z:2,symbol:'none',showSymbol:false,
    lineStyle:{color:st.line,width:1.2,type:'dotted'},data:pts.map(p=>[p[0],p[1]])});
  legends.push({right:L.legend[0],top:L.legend[1],orient:'horizontal',selectedMode:false,
    data:[{name,icon:legendIcon(st.shape),itemStyle:{color:st.marker,borderWidth:0}}],
    itemWidth:60,itemHeight:26,backgroundColor:'#ffffff',borderColor:'#c4c4c4',borderWidth:1.5,borderRadius:0,
    padding:[9,12,9,6],shadowColor:'rgba(0,0,0,0.3)',shadowOffsetX:3,shadowOffsetY:3,shadowBlur:0,
    textStyle:{fontFamily:'DejaVu Sans',fontSize:24,color:'#333',padding:[0,0,0,8]}});
});

const chart=echarts.init(document.getElementById('c'),null,{renderer:'canvas'});
chart.setOption({
  animation:false,
  backgroundColor:'#ffffff',
  textStyle:{fontFamily:'DejaVu Sans'},
  grid:grids, xAxis:xAxes, yAxis:yAxes, series, legend:legends,
  graphic:[
    {type:'line',z:50,shape:{x1:30,y1:19,x2:2320,y2:19},style:{stroke:'#222222',lineWidth:3}},
    {type:'rect',z:51,shape:{x:37,y:18,width:2281,height:2089},style:{fill:'none',stroke:'#62d83a',lineWidth:16,lineDash:[16,16]}},
    {type:'text',z:60,x:845,y:953,style:{text:'No plateau',fontSize:148,fontFamily:'Liberation Serif',fill:'#000',stroke:'#000',lineWidth:2,align:'left',verticalAlign:'middle'}},
    {type:'text',z:60,x:837,y:1194,style:{text:'is observed!',fontSize:148,fontFamily:'Liberation Serif',fill:'#000',stroke:'#000',lineWidth:2,align:'left',verticalAlign:'middle'}}
  ]
});
</script></body></html>
